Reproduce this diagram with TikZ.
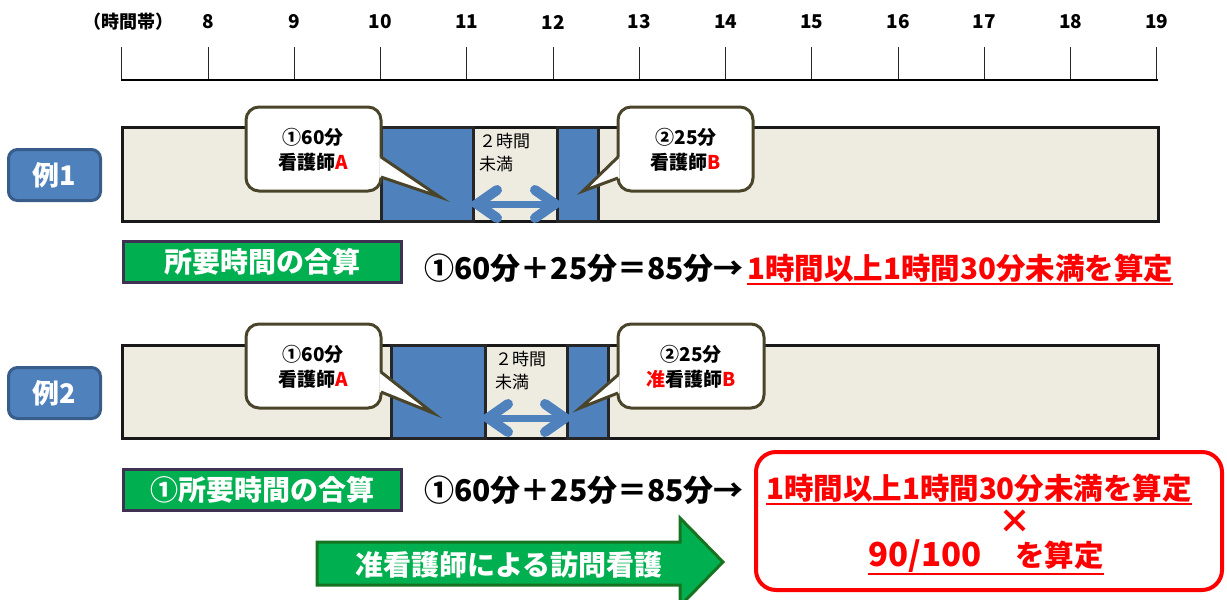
\documentclass[tikz,border=0pt]{standalone}
\usepackage{fontspec}
\setmainfont{Noto Sans CJK JP}
\usetikzlibrary{calc}
\definecolor{beige}{HTML}{EEECE1}
\definecolor{bblue}{HTML}{4F81BD}
\definecolor{bblueD}{HTML}{385D8A}
\definecolor{olive}{HTML}{4A452A}
\definecolor{gr}{HTML}{00B050}
\definecolor{grD}{HTML}{17731F}
\definecolor{purp}{HTML}{3F3151}
\definecolor{rd}{HTML}{FF0000}
\tikzset{
  hourlbl/.style={font=\bfseries\fontsize{19}{22}\selectfont, inner sep=0pt},
  tickline/.style={line width=1pt, draw=black!85},
  exbox/.style={rounded corners=9pt, fill=bblue, draw=bblueD, line width=3pt,
    minimum width=92pt, minimum height=51pt, text=white, inner sep=0pt,
    font=\bfseries\fontsize{27}{30}\selectfont},
  barbg/.style={fill=beige, draw=black!90, line width=3pt},
  blk/.style={fill=bblue, draw=black!85, line width=3pt},
  gaptxt/.style={font=\fontsize{17}{23}\selectfont, align=left, anchor=north west, inner sep=0pt},
  darrshaft/.style={draw=bblue, line width=7pt},
  darrhead/.style={draw=bblue, line width=10pt, line cap=round, line join=miter},
  callbox/.style={fill=white, draw=olive, line width=3pt, rounded corners=13pt},
  calltail/.style={draw=olive, line width=3pt, line join=miter},
  calltxt/.style={font=\bfseries\fontsize{19}{25}\selectfont, align=center, inner sep=0pt},
  sumbox/.style={fill=gr, draw=purp, line width=3pt, minimum width=278pt, minimum height=41pt,
    text=white, inner sep=0pt, font=\bfseries\fontsize{28}{30}\selectfont},
  formula/.style={font=\bfseries\fontsize{30}{34}\selectfont, anchor=west, inner sep=0pt},
  redtxt/.style={font=\bfseries\fontsize{29.5}{34}\selectfont, text=rd, inner sep=0pt},
  uline/.style={draw=rd, line width=2.5pt},
  resbox/.style={draw=rd, fill=white, line width=4pt, rounded corners=20pt},
  garrow/.style={fill=gr, draw=grD, line width=3pt, line join=miter},
  garrtxt/.style={font=\bfseries\fontsize{28}{30}\selectfont, text=white, inner sep=0pt}
}
\begin{document}
\begin{tikzpicture}[x=1pt,y=-1pt]
\useasboundingbox (0,0) rectangle (1227,600);

% ---------- timeline ----------
\node[hourlbl, font=\bfseries\fontsize{18}{20}\selectfont] (tz) at (128,22) {（時間帯）};
\foreach \h in {8,...,19} {
  \pgfmathsetmacro{\hx}{208+(\h-8)*86.27}
  \node[hourlbl] (h\h) at (\hx,22) {\h};
  \draw[tickline] (\hx,47) -- (\hx,80);
}
\draw[tickline] (121.7,47) -- (121.7,80);
\draw[line width=2pt] (121,80) -- (1158,80);

% ---------- Example 1 ----------
\node[exbox] (ex1) at (54.5,175) {例1};
\draw[barbg] (122,127) rectangle (1158,221);
\draw[blk] (381,127) rectangle (473,221);
\draw[blk] (557,127) rectangle (598,221);
\node[gaptxt] (g1) at (479,133) {２時間\\未満};
\coordinate (a1l) at (477,204);
\coordinate (a1r) at (555,204);
\draw[darrshaft] ($(a1l)+(4,0)$) -- ($(a1r)+(-4,0)$);
\draw[darrhead] ($(a1l)+(20,-14)$) -- (a1l) -- ($(a1l)+(20,14)$);
\draw[darrhead] ($(a1r)+(-20,-14)$) -- (a1r) -- ($(a1r)+(-20,14)$);

% callout A
\draw[callbox] (246,107) rectangle (381,191);
\fill[white] (379.3,157) -- (440,197) -- (379.3,177) -- cycle;
\draw[calltail] (381,157) -- (440,197) -- (381,177);
\node[calltxt] (c1a) at (313,150) {①60分\\看護師\textcolor{rd}{A}};
% callout B
\draw[callbox] (618,107) rectangle (753,191);
\fill[white] (619.7,157) -- (583,191) -- (619.7,178) -- cycle;
\draw[calltail] (618,157) -- (583,191) -- (618,178);
\node[calltxt] (c1b) at (686,150) {②25分\\看護師\textcolor{rd}{B}};

\node[sumbox] (s1) at (262.5,262) {所要時間の合算};
\node[formula] (f1) at (424,268) {①60分＋25分＝85分→};
\node[redtxt, anchor=west] (r1) at (747,268) {1時間以上1時間30分未満を算定};
\draw[uline] ($(r1.south west)+(0,1.5)$) -- ($(r1.south east)+(0,1.5)$);

% ---------- Example 2 ----------
\node[exbox] (ex2) at (54.5,393) {例2};
\draw[barbg] (122,345) rectangle (1158,438);
\draw[blk] (391,345) rectangle (485,438);
\draw[blk] (567,345) rectangle (608,438);
\node[gaptxt] (g2) at (495,351) {２時間\\未満};
\coordinate (a2l) at (488,418);
\coordinate (a2r) at (565,418);
\draw[darrshaft] ($(a2l)+(4,0)$) -- ($(a2r)+(-4,0)$);
\draw[darrhead] ($(a2l)+(20,-14)$) -- (a2l) -- ($(a2l)+(20,14)$);
\draw[darrhead] ($(a2r)+(-20,-14)$) -- (a2r) -- ($(a2r)+(-20,14)$);

% callout A
\draw[callbox] (246,324) rectangle (381,408);
\fill[white] (379.3,372) -- (433,413) -- (379.3,392) -- cycle;
\draw[calltail] (381,372) -- (433,413) -- (381,392);
\node[calltxt] (c2a) at (313,367) {①60分\\看護師\textcolor{rd}{A}};
% callout B
\draw[callbox] (618,324) rectangle (764,408);
\fill[white] (619.7,375) -- (580,408) -- (619.7,393) -- cycle;
\draw[calltail] (618,375) -- (580,408) -- (618,393);
\node[calltxt] (c2b) at (691,367) {②25分\\\textcolor{rd}{准}看護師\textcolor{rd}{B}};

\node[sumbox] (s2) at (262.5,490) {①所要時間の合算};
\node[formula] (f2) at (424,490) {①60分＋25分＝85分→};

\draw[resbox] (756,452) rectangle (1222,590);
\node[redtxt] (r2) at (979,488) {1時間以上1時間30分未満を算定};
\draw[uline] ($(r2.south west)+(0,1.5)$) -- ($(r2.south east)+(0,1.5)$);
\node[redtxt, font=\bfseries\fontsize{33}{34}\selectfont] (x2) at (1015,522) {×};
\node[redtxt] (r3) at (986,556) {{\fontsize{33}{34}\selectfont 90/100}\hspace{34pt}を算定};
\draw[uline] ($(r3.south west)+(0,1.5)$) -- ($(r3.south east)+(0,1.5)$);

\draw[garrow] (317,542) -- (680,542) -- (680,518) -- (723,562) -- (680,606) -- (680,585) -- (317,585) -- cycle;
\node[garrtxt] (gt) at (509,565) {准看護師による訪問看護};
\end{tikzpicture}
\end{document}
